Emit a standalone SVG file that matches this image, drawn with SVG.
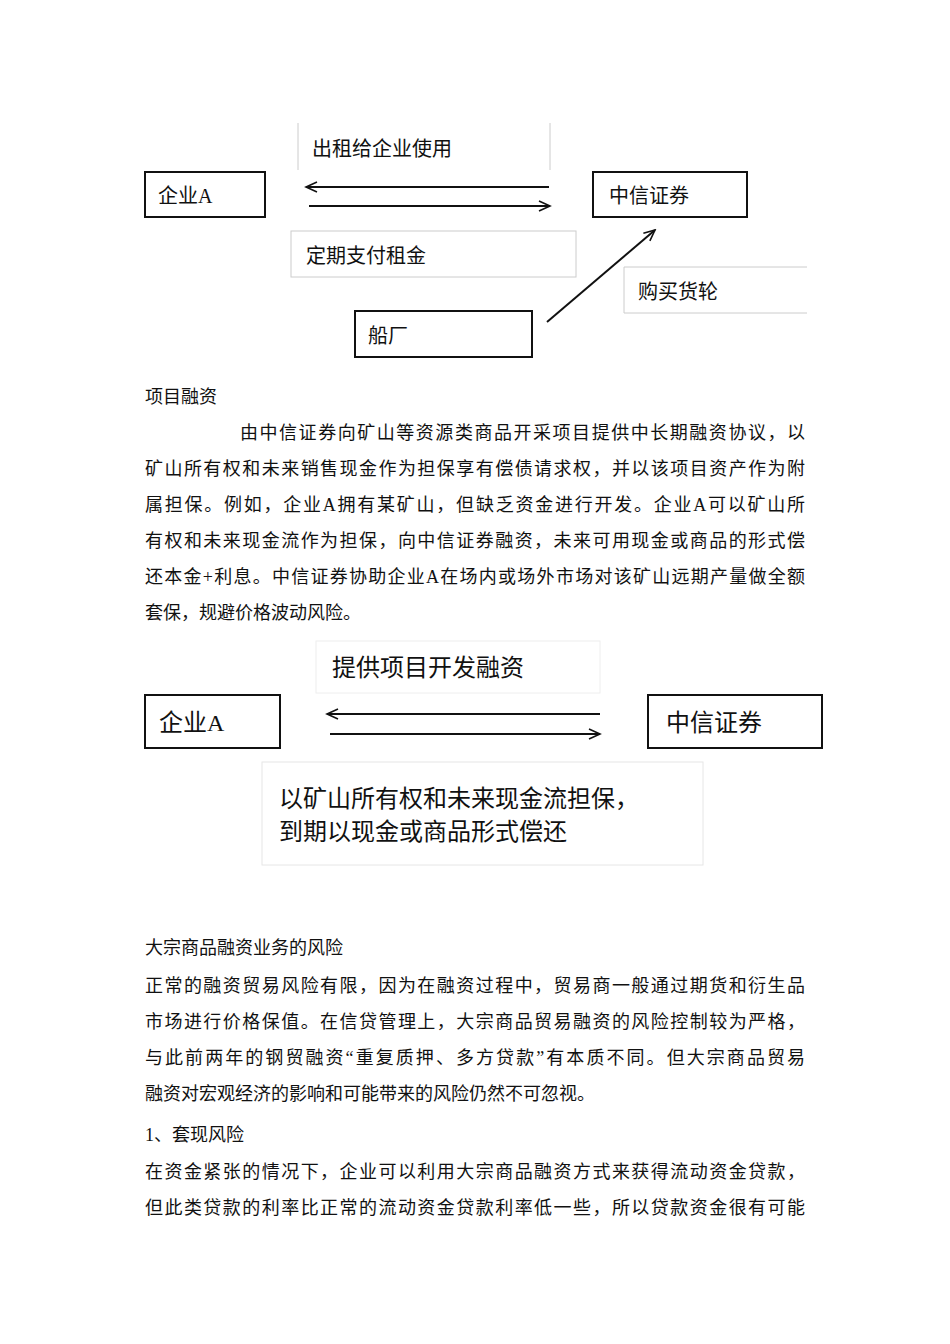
<svg xmlns="http://www.w3.org/2000/svg" width="950" height="1344" viewBox="0 0 950 1344">
<style>
text{font-family:"Liberation Serif","Noto Sans CJK SC",serif;fill:#111}
.b{font-size:18px}
.n{fill:#fff;stroke:#111;stroke-width:2}
.g{fill:#fff;stroke:#ccc;stroke-width:1}
.a{stroke:#111;stroke-width:2;fill:none;marker-end:url(#m)}
.l1{font-size:20px}
.l2{font-size:24px}
</style>
<defs><marker id="m" markerWidth="14" markerHeight="14" refX="12" refY="6" orient="auto" markerUnits="userSpaceOnUse"><path d="M1,1 L12,6 L1,11" fill="none" stroke="#111" stroke-width="1.6"/></marker></defs>
<rect width="950" height="1344" fill="#fff"/>
<g id="labels1">
<path d="M298,123V170M550,123V170" stroke="#ccc"/>
<text class="l1" x="312" y="156">出租给企业使用</text>
<rect class="g" x="291" y="231" width="285" height="46"/>
<text class="l1" x="306" y="263">定期支付租金</text>
<path d="M624,313V267H807M624,313H807" stroke="#ccc" fill="none"/>
<text class="l1" x="638" y="299">购买货轮</text>
</g>
<g id="n1"><rect class="n" x="145" y="172" width="120" height="45"/><text class="l1" x="158" y="203">企业A</text></g>
<g id="n2"><rect class="n" x="593" y="172" width="154" height="45"/><text class="l1" x="609" y="203">中信证券</text></g>
<g id="n3"><rect class="n" x="355" y="311" width="177" height="46"/><text class="l1" x="368" y="343">船厂</text></g>
<g id="edges1">
<line class="a" x1="549" y1="187" x2="306" y2="187"/>
<line class="a" x1="309" y1="206" x2="550" y2="206"/>
<line class="a" x1="547" y1="322" x2="655" y2="230"/>
</g>
<g id="body1" class="b">
<text x="145" y="403">项目融资</text>
<text x="240" y="439" textLength="565">由中信证券向矿山等资源类商品开采项目提供中长期融资协议，以</text>
<text x="145" y="475" textLength="660">矿山所有权和未来销售现金作为担保享有偿债请求权，并以该项目资产作为附</text>
<text x="145" y="511" textLength="660">属担保。例如，企业A拥有某矿山，但缺乏资金进行开发。企业A可以矿山所</text>
<text x="145" y="547" textLength="660">有权和未来现金流作为担保，向中信证券融资，未来可用现金或商品的形式偿</text>
<text x="145" y="583" textLength="660">还本金+利息。中信证券协助企业A在场内或场外市场对该矿山远期产量做全额</text>
<text x="145" y="619">套保，规避价格波动风险。</text>
</g>
<g id="labels2">
<rect x="316" y="641" width="284" height="52" fill="#fff" stroke="#eee"/>
<text class="l2" x="332" y="676">提供项目开发融资</text>
<rect x="262" y="762" width="441" height="103" fill="#fff" stroke="#e6e6e6"/>
<text class="l2" x="279" y="807">以矿山所有权和未来现金流担保，</text>
<text class="l2" x="279" y="840">到期以现金或商品形式偿还</text>
</g>
<g id="n4"><rect class="n" x="145" y="695" width="135" height="53"/><text class="l2" x="159" y="731">企业A</text></g>
<g id="n5"><rect class="n" x="648" y="695" width="174" height="53"/><text class="l2" x="666" y="731">中信证券</text></g>
<g id="edges2">
<line class="a" x1="600" y1="714" x2="327" y2="714"/>
<line class="a" x1="330" y1="734" x2="600" y2="734"/>
</g>
<g id="body2" class="b">
<text x="145" y="954">大宗商品融资业务的风险</text>
<text x="145" y="992" textLength="660">正常的融资贸易风险有限，因为在融资过程中，贸易商一般通过期货和衍生品</text>
<text x="145" y="1028" textLength="660">市场进行价格保值。在信贷管理上，大宗商品贸易融资的风险控制较为严格，</text>
<text x="145" y="1064" textLength="660">与此前两年的钢贸融资“重复质押、多方贷款”有本质不同。但大宗商品贸易</text>
<text x="145" y="1100">融资对宏观经济的影响和可能带来的风险仍然不可忽视。</text>
<text x="145" y="1141">1、套现风险</text>
<text x="145" y="1178" textLength="660">在资金紧张的情况下，企业可以利用大宗商品融资方式来获得流动资金贷款，</text>
<text x="145" y="1214" textLength="660">但此类贷款的利率比正常的流动资金贷款利率低一些，所以贷款资金很有可能</text>
</g>
</svg>
